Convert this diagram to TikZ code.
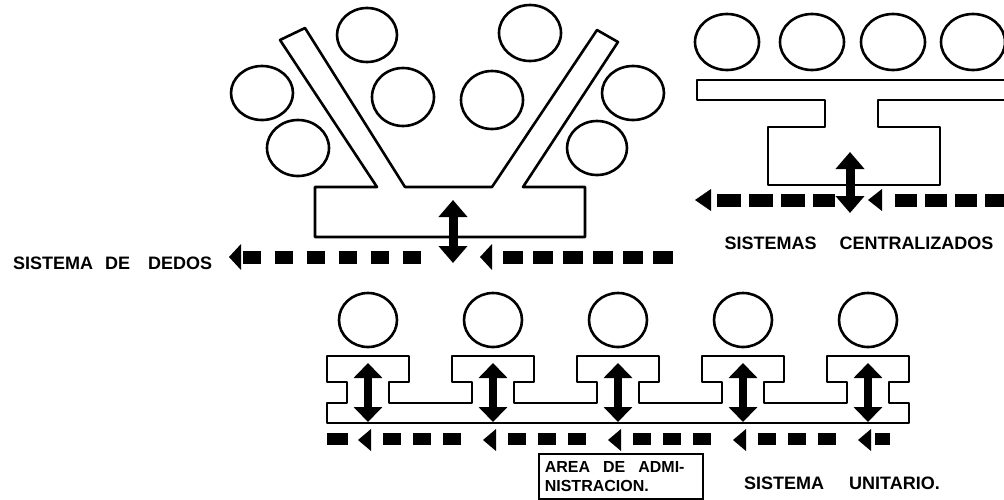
\documentclass[tikz,border=0pt]{standalone}
\usepackage{fontspec}
\setsansfont{Liberation Sans}
\usetikzlibrary{arrows.meta}
\tikzset{
    wall/.style={line width=2.6pt, line join=round},
    flow/.style={line width=13pt},
    updown/.style={line width=9pt, {Triangle[width=28pt,length=17pt]}-{Triangle[width=28pt,length=17pt]}},
    smallupdown/.style={line width=8pt, {Triangle[width=28pt,length=15pt]}-{Triangle[width=28pt,length=15pt]}},
    systxt/.style={font=\sffamily\bfseries\fontsize{18}{20}\selectfont, inner sep=0pt}
}

\begin{document}
\begin{tikzpicture}[x=1pt,y=-1pt]
        % frame
            \useasboundingbox (0,0) rectangle (1004,499);
            \clip (0,0) rectangle (1004,499);
        % sistema de dedos: circles
            \draw[wall] (262,93) ellipse (31pt and 27pt);
            \draw[wall] (298,148) ellipse (31pt and 28pt);
            \draw[wall] (367,35) ellipse (30pt and 27pt);
            \draw[wall] (403,97) ellipse (31pt and 29pt);
            \draw[wall] (530,33) ellipse (31pt and 28pt);
            \draw[wall] (492,100) ellipse (31pt and 29pt);
            \draw[wall] (633,93) ellipse (31pt and 27pt);
            \draw[wall] (597,148) ellipse (30pt and 27pt);
        % sistema de dedos: fingers and base
            \draw[wall] (315,187) -- (377,187) -- (280,40) -- (305,28) -- (405,187) -- (492,187)
                -- (597,30) -- (618,42) -- (523,187) -- (585,187) -- (585,237) -- (315,237) -- cycle;
        % sistema de dedos: flow
            \fill (229,257) -- (241,244) -- (241,270) -- cycle;
            \draw[flow, dash pattern=on 18pt off 14pt] (243,257) -- (421,257);
            \fill (480,257) -- (492,244) -- (492,270) -- cycle;
            \draw[flow, dash pattern=on 20pt off 10pt] (503,257) -- (673,257);
            \draw[updown] (453,200) -- (453,263);
        % centralizados: circles
            \draw[wall] (727,42) ellipse (32pt and 28pt);
            \draw[wall] (812,42) ellipse (32pt and 28pt);
            \draw[wall] (893,42) ellipse (32pt and 28pt);
            \draw[wall] (973,42) ellipse (32pt and 28pt);
        % centralizados: bar and core
            \draw[wall] (1010,80) -- (697,80) -- (697,100) -- (825,100) -- (825,127) -- (768,127) -- (768,185)
                -- (940,185) -- (940,127) -- (878,127) -- (878,100) -- (1010,100);
        % centralizados: flow
            \fill (695,200) -- (711,189) -- (711,211) -- cycle;
            \draw[flow, dash pattern=on 24pt off 8pt] (717,200) -- (835,200);
            \fill (868,200) -- (882,189) -- (882,211) -- cycle;
            \draw[flow, dash pattern=on 22pt off 8pt] (895,200) -- (1004,200);
            \draw[updown] (850,152) -- (850,213);
        % unitario: row of units
            \draw[wall] (327,423) -- (327,403)
                \foreach \c in {368,493,618,743,868} {
                    -- (\c-21,403) -- (\c-21,382) -- (\c-41,382) -- (\c-41,356)
                    -- (\c+41,356) -- (\c+41,382) -- (\c+21,382) -- (\c+21,403)
                } -- (909,403) -- (909,423) -- cycle;
            \foreach \c in {368,493,618,743,868} {
                \draw[wall] (\c,320) ellipse (29pt and 27pt);
                \draw[smallupdown] (\c,363) -- (\c,422);
                \fill (\c-10,440) -- (\c+3,429) -- (\c+3,451) -- cycle;
            }
        % unitario: flow
            \draw[flow, line width=12pt] (327,439) -- (348,439);
            \foreach \c in {368,493,618,743}
                \draw[flow, line width=12pt, dash pattern=on 18pt off 12pt] (\c+15,439) -- (\c+93,439);
            \draw[flow, line width=12pt] (875,439) -- (890,439);
        %nodes
            \node[systxt, anchor=west] (dedos) at (13,263) {SISTEMA\hspace{12pt}DE\hspace{18pt}DEDOS};
            \node[systxt] (centralizados) at (859,243) {SISTEMAS\hspace{23pt}CENTRALIZADOS};
            \node[systxt] (unitario) at (842,483) {SISTEMA\hspace{25pt}UNITARIO.};
            \node[draw, line width=1.6pt, anchor=north west, text width=152pt, inner xsep=6pt,
                minimum height=45pt, align=left, font=\sffamily\bfseries\fontsize{16}{19}\selectfont]
                (admin) at (538,453) {AREA\hspace{13pt}DE\hspace{13pt}ADMI-\\NISTRACION.};
    \end{tikzpicture}
\end{document}
